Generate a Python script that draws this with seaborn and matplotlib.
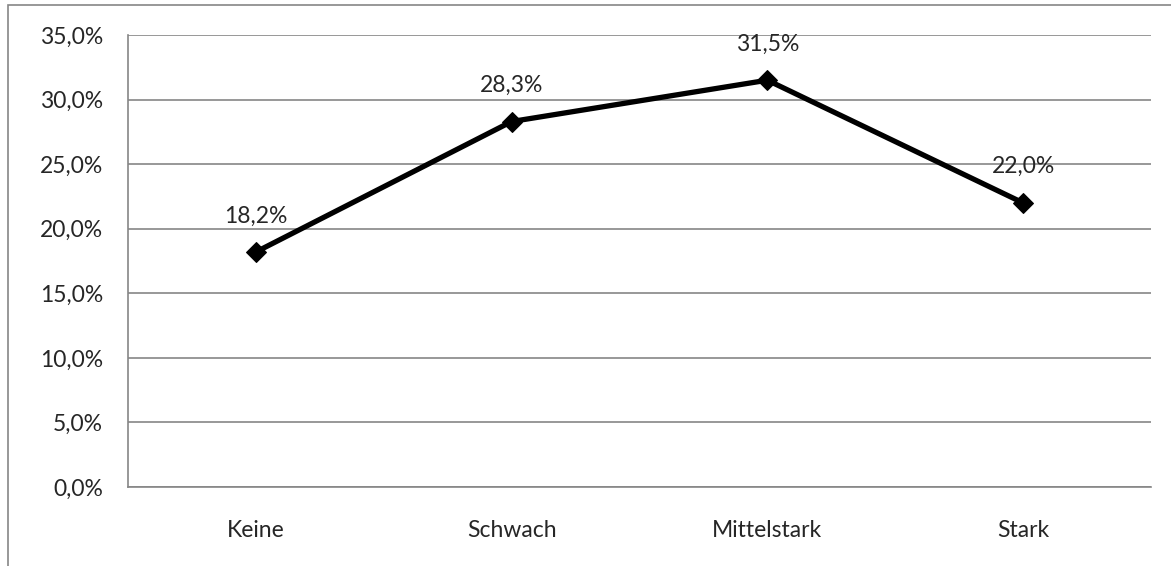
import matplotlib
matplotlib.use('Agg')
import matplotlib.pyplot as plt
import seaborn as sns
import pandas as pd
from matplotlib.patches import Rectangle

# Daten
kategorien = ['Keine', 'Schwach', 'Mittelstark', 'Stark']
anteile = [18.2, 28.3, 31.5, 22.0]
y_ticks = [0, 5, 10, 15, 20, 25, 30, 35]

df = pd.DataFrame({'Kategorie': kategorien, 'Anteil': anteile})

sns.set_style('white')
plt.rcParams['font.family'] = ['Lato', 'DejaVu Sans']

grau = '#868686'
fs = 16.5
fig = plt.figure(figsize=(11.71, 5.66), dpi=100)
ax = fig.add_axes([128 / 1171, 1 - 487 / 566, (1151 - 128) / 1171, (487 - 35) / 566])

sns.lineplot(data=df, x='Kategorie', y='Anteil', ax=ax, color='black',
             linewidth=3.8, marker='D', markersize=10.5, markeredgecolor='black', sort=False)

for i, v in enumerate(anteile):
    ax.annotate(f'{v:.1f}%'.replace('.', ','), (i, v), xytext=(0, 26),
                textcoords='offset points', ha='center', va='center', fontsize=fs)

ax.set_xlim(-0.5, len(kategorien) - 0.5)
ax.set_ylim(0, 35)
ax.set_yticks(y_ticks)
ax.set_yticklabels([f'{t:.1f}%'.replace('.', ',') for t in y_ticks], fontsize=fs)
ax.set_xticks(range(len(kategorien)))
ax.set_xticklabels(kategorien, fontsize=fs)
ax.set_xticks([i - 0.5 for i in range(len(kategorien) + 1)], minor=True)
ax.tick_params(axis='x', which='major', length=0, pad=24)
ax.tick_params(axis='x', which='minor', length=6, color=grau, width=1.2, direction='out')
ax.tick_params(axis='y', length=6, color=grau, width=1.2, direction='out', pad=12)
ax.set_xlabel('')
ax.set_ylabel('')

ax.grid(axis='y', color=grau, linewidth=1.2)
ax.set_axisbelow(True)
for s in ['top', 'right']:
    ax.spines[s].set_visible(False)
for s in ['left', 'bottom']:
    ax.spines[s].set_color(grau)
    ax.spines[s].set_linewidth(1.2)

# Rahmen des Diagrammbereichs
fig.patches.append(Rectangle((8 / 1171, -0.05), 1.1, 1 - 5 / 566 + 0.05,
                             transform=fig.transFigure, fill=False,
                             edgecolor=grau, linewidth=1.2))

fig.savefig('out.png', dpi=100)
